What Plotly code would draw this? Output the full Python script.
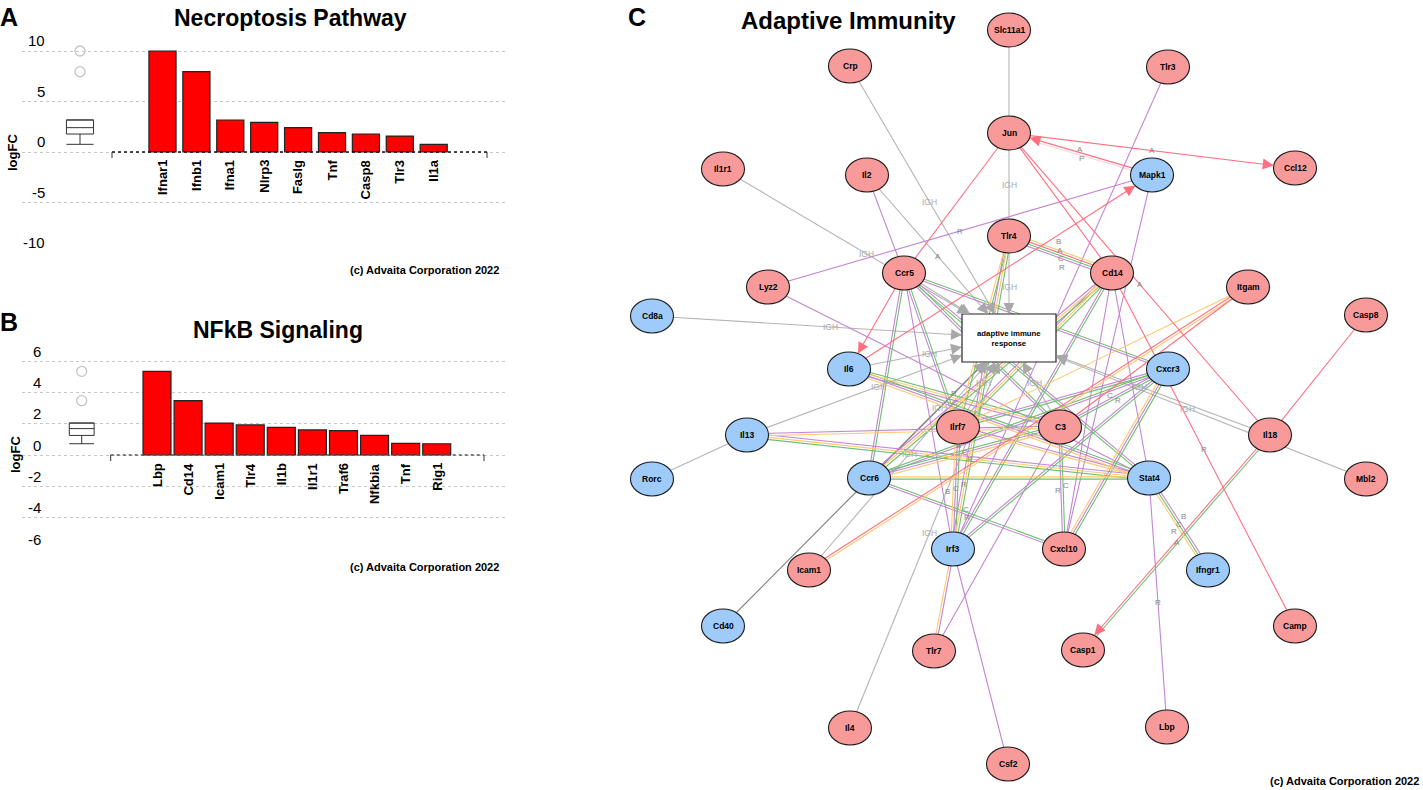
import math
import plotly.graph_objects as go

W, H = 1423, 790
FONT = "Liberation Sans, Arial, Helvetica, sans-serif"

# ---------------- Panel A data ----------------
necro_genes = ["Ifnar1", "Ifnb1", "Ifna1", "Nlrp3", "Faslg", "Tnf", "Casp8", "Tlr3", "Il1a"]
necro_logfc = [10.0, 7.95, 3.17, 2.94, 2.41, 1.91, 1.78, 1.58, 0.76]
necro_yticks = [10, 5, 0, -5, -10]

# ---------------- Panel B data ----------------
nfkb_genes = ["Lbp", "Cd14", "Icam1", "Tlr4", "Il1b", "Il1r1", "Traf6", "Nfkbia", "Tnf", "Rig1"]
nfkb_logfc = [5.34, 3.47, 2.04, 1.92, 1.77, 1.60, 1.55, 1.25, 0.74, 0.72]
nfkb_yticks = [6, 4, 2, 0, -2, -4, -6]

# ---------------- Panel C network data ----------------
node_names = ["Slc11a1", "Crp", "Tlr3", "Jun", "Ccl12", "Il1r1", "Il2", "Mapk1", "Tlr4", "Ccr5",
              "Cd14", "Lyz2", "Itgam", "Cd8a", "Casp8", "Il6", "Cxcr3", "Il13", "Ilrf7", "C3",
              "Il18", "Rorc", "Ccr6", "Stat4", "Mbl2", "Irf3", "Cxcl10", "Icam1", "Ifngr1", "Cd40",
              "Camp", "Tlr7", "Casp1", "Il4", "Lbp", "Csf2", "BOX"]
node_x = [1009, 850, 1168, 1009, 1295, 723, 867, 1152, 1009, 904,
          1112, 768, 1248, 652, 1366, 849, 1168, 747, 958, 1060,
          1270, 652, 869, 1149, 1366, 953, 1064, 809, 1208, 723,
          1295, 934, 1083, 850, 1167, 1008, 1009]
node_y = [30, 66, 67, 133, 168, 169, 175, 175, 236, 273,
          273, 287, 287, 316, 315, 369, 369, 435, 427, 427,
          435, 479, 478, 478, 479, 549, 549, 570, 570, 626,
          626, 651, 650, 728, 727, 764, 338]
node_reg = ["up", "up", "up", "up", "up", "up", "up", "down", "up", "up",
            "up", "up", "up", "down", "up", "down", "down", "down", "up", "up",
            "up", "down", "down", "down", "up", "down", "up", "up", "down", "down",
            "up", "up", "up", "up", "up", "up", "box"]
box_text = "adaptive immune<br>response"

edge_src = ["Slc11a1", "Jun", "Tlr4", "Crp", "Il1r1", "Il2", "Cd8a", "Il6", "Il13", "Rorc",
            "Cd40", "Icam1", "Ccr6", "Il4", "C3", "Il18", "Mbl2", "Ilrf7", "Ccr5",
            "Jun", "Mapk1", "Il6", "Ccr5", "Ccr5", "Jun", "Jun", "Cd14", "Casp8", "Il18",
            "Itgam", "Itgam", "Itgam",
            "Lyz2", "Il2", "Lyz2", "Tlr3", "Mapk1", "Cd14", "Stat4", "Irf3", "Irf3", "Tlr7", "Stat4",
            "Tlr4", "Ccr5", "Ccr5", "Ccr5", "Ccr5", "Ccr5", "Ccr5", "Tlr4", "Tlr4",
            "Cd14", "Cd14", "Cd14", "Cd14", "Il6", "Il6", "Il13", "Il13",
            "Ccr6", "Ccr6", "Ccr6", "Ccr6", "Cxcr3", "Cxcr3", "Cxcr3", "Cxcr3", "C3", "Ilrf7", "Ilrf7"]
edge_tgt = ["Jun", "Tlr4", "BOX", "BOX", "BOX", "BOX", "BOX", "BOX", "BOX", "Il13",
            "BOX", "BOX", "BOX", "BOX", "BOX", "BOX", "BOX", "BOX", "BOX",
            "Ccl12", "Jun", "Mapk1", "Il6", "Jun", "Cd14", "Il18", "Camp", "Il18", "Casp1",
            "Icam1", "Ilrf7", "C3",
            "Mapk1", "Ccr5", "Stat4", "Irf3", "Cxcl10", "Stat4", "Lbp", "Csf2", "Tlr7", "C3", "Ifngr1",
            "Cd14", "Cxcr3", "C3", "Stat4", "Ilrf7", "Ccr6", "Irf3", "Irf3", "Ilrf7",
            "Ilrf7", "Ccr6", "Irf3", "Cxcl10", "C3", "Stat4", "Stat4", "C3",
            "Cxcr3", "C3", "Cxcl10", "Stat4", "Cxcl10", "Irf3", "Ilrf7", "C3", "Cxcl10", "Irf3", "Stat4"]
edge_cols = ["g", "g", "g", "g", "g", "g", "g", "g", "g", "g",
             "k", "g", "g", "g", "g", "g", "g", "g", "g",
             "r", "lr", "r", "r", "r", "r", "r", "r", "r", "nr",
             "or", "o", "r",
             "p", "p", "p", "p", "p", "p", "p", "p", "po", "p", "pno",
             "ornp", "np", "np", "pn", "np", "np", "p", "nop", "no",
             "nop", "nop", "np", "p", "nop", "npo", "pon", "po",
             "np", "npo", "np", "on", "npo", "np", "np", "np", "np", "npo", "po"]
edge_lbls = ["", "IGH", "IGH", "IGH", "IGH", "A", "IGH", "IGH", "IGH", "",
             "", "IGH", "IGH", "IGH", "IGH", "IGH", "IGH", "IGH", "",
             "A", "PA", "", "", "", "", "A", "R", "", "A",
             "", "", "",
             "R", "", "", "", "", "", "R", "", "", "", "BCR",
             "BACR", "", "", "", "", "", "", "", "",
             "", "", "", "", "RC", "", "", "",
             "", "BCR", "CR", "", "", "", "", "RC", "CR", "RCB", ""]
edge_dir = [0, 0, 1, 1, 1, 1, 1, 1, 1, 0,
            1, 1, 1, 1, 1, 1, 1, 1, 1,
            1, 1, 1, 1, 0, 0, 0, 0, 0, 1,
            0, 0, 0,
            0, 0, 0, 0, 0, 0, 0, 0, 0, 0, 0,
            0, 0, 0, 0, 0, 0, 0, 0, 0,
            0, 0, 0, 0, 0, 0, 0, 0,
            0, 0, 0, 0, 0, 0, 0, 0, 0, 0, 0]

# ---------------- styles ----------------
EDGE_COLORS = {"g": "#b4b4b4", "k": "#7d7d7d", "r": "#ff6f80", "l": "#ffd6de",
               "p": "#c485d4", "n": "#6fbf6f", "o": "#ffc86e"}
NODE_FILL = {"up": "#f89a9a", "down": "#9fcbfa", "box": "#ffffff"}


def fx(px):
    return px / W


def fy(py):
    return 1 - py / H


fig = go.Figure()
annotations = []
shapes = []


def txt(text, x, y, size, bold=False, xanchor="center", yanchor="middle", color="black",
        xref="paper", yref="paper", angle=0, yshift=0, xshift=0):
    annotations.append(dict(text=("<b>%s</b>" % text) if bold else text, x=x, y=y, xref=xref, yref=yref,
                            xanchor=xanchor, yanchor=yanchor, showarrow=False, textangle=angle,
                            yshift=yshift, xshift=xshift,
                            font=dict(family=FONT, size=size, color=color)))


def bar_panel(genes, vals, yticks, ax_id, cfg):
    xa = "x" if ax_id == 1 else "x%d" % ax_id
    ya = "y" if ax_id == 1 else "y%d" % ax_id
    slot, c0 = cfg["slot"], cfg["c0"]
    u = lambda p: (p - c0) / slot
    fig.add_trace(go.Bar(x=list(range(len(genes))), y=vals, width=cfg["bar_w"],
                         marker=dict(color="#ff0000", line=dict(color="#222222", width=1.2)),
                         xaxis=xa, yaxis=ya, hoverinfo="skip"))
    fig.add_trace(go.Box(y=vals, x0=u(cfg["box_px"]), width=0.8, boxpoints="outliers",
                         quartilemethod="inclusive",
                         fillcolor="white", line=dict(color="#333333", width=1), whiskerwidth=1,
                         marker=dict(symbol="circle-open", size=10, color="#c4c4c4", line=dict(width=1.3)),
                         xaxis=xa, yaxis=ya, hoverinfo="skip"))
    key = "" if ax_id == 1 else str(ax_id)
    ext = cfg["ext"]
    ppu = cfg["ppu"]
    fig.update_layout(**{
        "xaxis" + key: dict(domain=[fx(22), fx(506)], range=[u(22), u(506)], showgrid=False,
                            zeroline=False, showticklabels=False, ticks="", showline=False,
                            anchor=ya),
        "yaxis" + key: dict(domain=[fy(cfg["ybot"]), fy(cfg["ytop"] - ext * ppu)],
                            range=[yticks[-1], yticks[0] + ext],
                            tickvals=yticks, showgrid=True, gridcolor="#c6c6c6", griddash="dot",
                            gridwidth=1, zeroline=False, showticklabels=False, ticks="",
                            showline=False, anchor=xa),
    })
    # zero axis segment
    shapes.append(dict(type="line", xref=xa, yref=ya, x0=u(cfg["l0"]), x1=u(cfg["l1"]), y0=0, y1=0,
                       line=dict(color=cfg["lc"], width=1.5, dash="dot"), layer="above"))
    for lp in (cfg["l0"], cfg["l1"]):
        shapes.append(dict(type="line", xref=xa, yref=ya, x0=u(lp), x1=u(lp), y0=0,
                           y1=-6 / ppu, line=dict(color="#333333", width=1), layer="above"))
    for t in yticks:
        txt(str(t), fx(cfg["tick_r"]), t, 15, xanchor="right", yref=ya, yshift=10)
    for i, g in enumerate(genes):
        txt(g, i, 0, 13, bold=True, xref=xa, yref=ya, angle=-90, yanchor="top", yshift=-6)
    txt("logFC", fx(cfg["logfc"][0]), fy(cfg["logfc"][1]), 13, bold=True, angle=-90)
    txt(cfg["title"], fx(cfg["title_xy"][0]), fy(cfg["title_xy"][1]), 23, bold=True)
    txt(cfg["letter"], fx(cfg["letter_xy"][0]), fy(cfg["letter_xy"][1]), 25, bold=True)
    txt("(c) Advaita Corporation 2022", fx(501), fy(cfg["copy_y"]), 11, bold=True, xanchor="right")


bar_panel(necro_genes, necro_logfc, necro_yticks, 1,
          dict(slot=33.9, c0=162.5, bar_w=0.8, box_px=80, l0=112, l1=487, lc="#111111",
               ybot=253, ytop=51, ppu=10.1, ext=1.5, tick_r=47, logfc=(12, 152),
               title="Necroptosis Pathway", title_xy=(290, 18), letter="A", letter_xy=(9, 17),
               copy_y=270))
bar_panel(nfkb_genes, nfkb_logfc, nfkb_yticks, 2,
          dict(slot=31.08, c0=157, bar_w=0.9, box_px=81.7, l0=110.7, l1=484, lc="#555555",
               ybot=549, ytop=361, ppu=15.65, ext=0.8, tick_r=43, logfc=(16, 455),
               title="NFkB Signaling", title_xy=(278, 330), letter="B", letter_xy=(9, 322),
               copy_y=567))

# ---------------- Panel C network ----------------
pos = {n: (x, y, r) for n, x, y, r in zip(node_names, node_x, node_y, node_reg)}


def boundary(name, dx, dy):
    cx, cy, kind = pos[name]
    if kind == "box":
        hw, hh = 47, 24
        s = min(hw / abs(dx) if abs(dx) > 1e-9 else 1e9, hh / abs(dy) if abs(dy) > 1e-9 else 1e9)
    else:
        a, b = 21.5, 17
        s = 1 / math.sqrt((dx / a) ** 2 + (dy / b) ** 2)
    return cx + dx * s, cy + dy * s


line_xy = {c: ([], []) for c in EDGE_COLORS}
SP = 2.3
for s, t, cols, lbl, d in zip(edge_src, edge_tgt, edge_cols, edge_lbls, edge_dir):
    x0, y0, _ = pos[s]
    x1, y1, _ = pos[t]
    L = math.hypot(x1 - x0, y1 - y0)
    ux, uy = (x1 - x0) / L, (y1 - y0) / L
    nx, ny = -uy, ux
    n = len(cols)
    for k, c in enumerate(cols):
        off = (k - (n - 1) / 2) * SP
        ox, oy = nx * off, ny * off
        xs, ys = line_xy[c]
        xs += [x0 + ox, x1 + ox, None]
        ys += [y0 + oy, y1 + oy, None]
        if d and c in "gkr":
            bx, by = boundary(t, -ux, -uy)
            tipx, tipy = bx + ox, by + oy
            annotations.append(dict(x=tipx, y=tipy, ax=tipx - ux * 10, ay=tipy - uy * 10,
                                    xref="x3", yref="y3", axref="x3", ayref="y3", text="",
                                    showarrow=True, arrowhead=2, arrowsize=2.2, arrowwidth=1,
                                    arrowcolor="#a8a8a8" if c == "g" else EDGE_COLORS[c], standoff=0))
    # labels at the edge midpoint
    mx, my = (x0 + x1) / 2, (y0 + y1) / 2
    if lbl == "IGH":
        txt("IGH", mx, my, 8.5, xref="x3", yref="y3", color="#ababab")
    elif lbl:
        m = len(lbl)
        if m > 1:
            for k, ch in enumerate(lbl):
                off = (k - (m - 1) / 2) * 8
                txt(ch, mx + nx * off + ux * off * 0.5, my + ny * off + uy * off * 0.5, 8,
                    xref="x3", yref="y3", color="#858585")
        else:
            txt(lbl, mx, my, 8, xref="x3", yref="y3", color="#858585")

for c in ["g", "k", "l", "p", "n", "o", "r"]:
    xs, ys = line_xy[c]
    if xs:
        fig.add_trace(go.Scatter(x=xs, y=ys, mode="lines", xaxis="x3", yaxis="y3",
                                 line=dict(color=EDGE_COLORS[c], width=1.1), hoverinfo="skip"))

for n, x, y, r in zip(node_names, node_x, node_y, node_reg):
    if r == "box":
        shapes.append(dict(type="rect", xref="x3", yref="y3", x0=x - 47, x1=x + 47, y0=y - 24, y1=y + 24,
                           fillcolor="white", line=dict(color="#222222", width=1.2), layer="above"))
        txt(box_text, x, y, 7.8, bold=True, xref="x3", yref="y3")
    else:
        shapes.append(dict(type="circle", xref="x3", yref="y3", x0=x - 21.5, x1=x + 21.5,
                           y0=y - 17, y1=y + 17, fillcolor=NODE_FILL[r],
                           line=dict(color="#1a1a1a", width=1.1), layer="above"))
        txt(n, x, y, 8.5, bold=True, xref="x3", yref="y3")

txt("Adaptive Immunity", fx(848), fy(20), 24, bold=True)
txt("C", fx(637), fy(17), 25, bold=True)
txt("(c) Advaita Corporation 2022", fx(1421), fy(781), 11, bold=True, xanchor="right")

fig.update_layout(
    xaxis3=dict(domain=[fx(620), 1], range=[620, 1423], visible=False, anchor="y3"),
    yaxis3=dict(domain=[0, 1], range=[790, 0], visible=False, anchor="x3"),
    width=W, height=H, margin=dict(l=0, r=0, t=0, b=0),
    paper_bgcolor="white", plot_bgcolor="white", showlegend=False,
    annotations=annotations, shapes=shapes,
    font=dict(family=FONT),
)

fig.write_html("out.html", config={"displayModeBar": False},
               post_script="document.body.style.margin='0';document.body.style.overflow='hidden';")
